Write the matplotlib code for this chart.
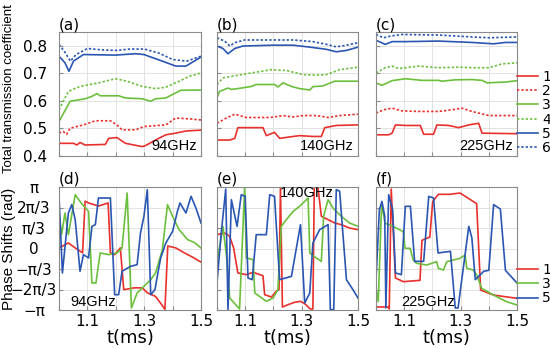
import numpy as np
import matplotlib.pyplot as plt

RED = '#e8302c'
GREEN = '#6cbf3c'
BLUE = '#2a56b2'

# ---- top row: total transmission coefficient (t in ms, value) ----
# (a) 94GHz
a1_t = [1.0, 1.051, 1.063, 1.074, 1.092, 1.163, 1.175, 1.204, 1.234, 1.293, 1.305, 1.340, 1.376, 1.411, 1.447, 1.5]
a1_v = [0.445, 0.445, 0.439, 0.448, 0.439, 0.441, 0.463, 0.466, 0.445, 0.433, 0.437, 0.457, 0.476, 0.482, 0.490, 0.493]
a2_t = [1.0, 1.015, 1.027, 1.039, 1.086, 1.128, 1.181, 1.204, 1.222, 1.270, 1.299, 1.376, 1.411, 1.459, 1.5]
a2_v = [0.482, 0.488, 0.478, 0.500, 0.512, 0.527, 0.527, 0.512, 0.494, 0.494, 0.506, 0.512, 0.537, 0.534, 0.530]
a3_t = [1.0, 1.039, 1.092, 1.116, 1.134, 1.145, 1.210, 1.234, 1.293, 1.323, 1.340, 1.376, 1.429, 1.5]
a3_v = [0.524, 0.598, 0.607, 0.616, 0.626, 0.618, 0.618, 0.610, 0.607, 0.598, 0.607, 0.610, 0.638, 0.639]
a4_t = [1.0, 1.033, 1.074, 1.139, 1.199, 1.240, 1.293, 1.340, 1.376, 1.423, 1.459, 1.5]
a4_v = [0.567, 0.634, 0.652, 0.665, 0.680, 0.671, 0.652, 0.644, 0.649, 0.671, 0.689, 0.701]
a5_t = [1.0, 1.021, 1.035, 1.051, 1.086, 1.199, 1.270, 1.299, 1.364, 1.411, 1.447, 1.476, 1.5]
a5_v = [0.762, 0.738, 0.707, 0.744, 0.768, 0.766, 0.771, 0.768, 0.744, 0.726, 0.726, 0.744, 0.759]
a6_t = [1.0, 1.02, 1.04, 1.06, 1.1, 1.15, 1.2, 1.25, 1.3, 1.35, 1.4, 1.45, 1.5]
a6_v = [0.805, 0.778, 0.744, 0.768, 0.790, 0.785, 0.783, 0.788, 0.788, 0.774, 0.750, 0.744, 0.762]

# (b) 140GHz
b1_t = [1.0, 1.045, 1.063, 1.074, 1.163, 1.175, 1.204, 1.222, 1.270, 1.293, 1.340, 1.370, 1.382, 1.423, 1.5]
b1_v = [0.457, 0.457, 0.463, 0.502, 0.502, 0.473, 0.485, 0.463, 0.470, 0.473, 0.470, 0.470, 0.502, 0.510, 0.512]
b2_t = [1.0, 1.033, 1.063, 1.104, 1.187, 1.234, 1.270, 1.305, 1.352, 1.394, 1.435, 1.5]
b2_v = [0.518, 0.537, 0.551, 0.539, 0.539, 0.546, 0.541, 0.546, 0.546, 0.539, 0.546, 0.551]
b3_t = [1.0, 1.009, 1.039, 1.051, 1.086, 1.122, 1.139, 1.204, 1.216, 1.234, 1.264, 1.293, 1.329, 1.340, 1.376, 1.417, 1.5]
b3_v = [0.610, 0.634, 0.646, 0.641, 0.646, 0.652, 0.659, 0.659, 0.650, 0.665, 0.652, 0.644, 0.639, 0.651, 0.654, 0.671, 0.671]
b4_t = [1.0, 1.021, 1.104, 1.193, 1.246, 1.305, 1.352, 1.388, 1.435, 1.5]
b4_v = [0.659, 0.683, 0.698, 0.713, 0.710, 0.695, 0.693, 0.695, 0.713, 0.722]
b5_t = [1.0, 1.021, 1.039, 1.063, 1.092, 1.199, 1.270, 1.329, 1.388, 1.423, 1.459, 1.5]
b5_v = [0.799, 0.790, 0.771, 0.790, 0.799, 0.802, 0.802, 0.795, 0.787, 0.778, 0.783, 0.795]
b6_t = [1.0, 1.027, 1.045, 1.063, 1.098, 1.270, 1.340, 1.388, 1.423, 1.459, 1.5]
b6_v = [0.829, 0.817, 0.799, 0.811, 0.821, 0.821, 0.815, 0.805, 0.796, 0.802, 0.811]

# (c) 225GHz
c1_t = [1.0, 1.045, 1.057, 1.069, 1.104, 1.157, 1.169, 1.204, 1.216, 1.258, 1.293, 1.329, 1.364, 1.376, 1.5]
c1_v = [0.476, 0.476, 0.482, 0.512, 0.510, 0.510, 0.478, 0.478, 0.512, 0.510, 0.502, 0.512, 0.518, 0.482, 0.480]
c2_t = [1.0, 1.027, 1.057, 1.092, 1.151, 1.222, 1.270, 1.305, 1.340, 1.400, 1.5]
c2_v = [0.555, 0.567, 0.573, 0.563, 0.561, 0.561, 0.567, 0.573, 0.561, 0.546, 0.546]
c3_t = [1.0, 1.021, 1.057, 1.104, 1.163, 1.222, 1.234, 1.281, 1.340, 1.376, 1.394, 1.459, 1.5]
c3_v = [0.665, 0.656, 0.673, 0.680, 0.674, 0.674, 0.671, 0.676, 0.677, 0.674, 0.665, 0.668, 0.673]
c4_t = [1.0, 1.033, 1.057, 1.080, 1.151, 1.222, 1.293, 1.340, 1.400, 1.447, 1.5]
c4_v = [0.701, 0.720, 0.726, 0.717, 0.726, 0.720, 0.722, 0.720, 0.720, 0.734, 0.738]
c5_t = [1.0, 1.033, 1.057, 1.104, 1.222, 1.340, 1.417, 1.459, 1.5]
c5_v = [0.820, 0.805, 0.815, 0.815, 0.817, 0.812, 0.807, 0.812, 0.812]
c6_t = [1.0, 1.027, 1.051, 1.092, 1.222, 1.340, 1.400, 1.5]
c6_v = [0.841, 0.829, 0.835, 0.841, 0.839, 0.832, 0.829, 0.832]

# ---- bottom row: phase shifts, in units of pi rad ----
# (d) 94GHz
d1_t = [1.0, 1.033, 1.057, 1.083, 1.092, 1.104, 1.139, 1.173, 1.181, 1.196, 1.216, 1.228, 1.264, 1.293,
        1.311, 1.340, 1.358, 1.373, 1.383, 1.411, 1.441, 1.470, 1.5]
d1_v = [0.01, 0.09, 0.01, -0.07, 0.77, 0.74, 0.69, 0.74, -0.07, -0.10, 0.01, -0.67, -0.64, -0.64,
        -0.72, -0.78, -0.89, -0.99, 0.04, 0.01, -0.07, -0.14, -0.22]
d3_t = [1.0, 1.009, 1.021, 1.033, 1.057, 1.078, 1.104, 1.116, 1.130, 1.145, 1.175, 1.204, 1.222, 1.240,
        1.255, 1.275, 1.299, 1.323, 1.340, 1.364, 1.382, 1.400, 1.423, 1.453, 1.476, 1.5]
d3_v = [0.577, 0.225, 0.577, 0.225, 0.875, 0.740, 0.604, -0.561, -0.561, -0.073, -0.100, -0.073, 0.008, 0.902,
        -0.967, -0.724, -0.615, -0.507, -0.398, -0.019, 0.713, 0.523, 0.306, 0.144, 0.100, 0.008]
d5_t = [1.0, 1.012, 1.033, 1.045, 1.057, 1.074, 1.086, 1.104, 1.116, 1.128, 1.139, 1.181, 1.196, 1.210,
        1.222, 1.252, 1.275, 1.287, 1.299, 1.311, 1.323, 1.338, 1.346, 1.358, 1.376, 1.400, 1.417, 1.426,
        1.447, 1.465, 1.482, 1.5]
d5_v = [0.848, -0.398, 0.577, 0.713, 0.469, -0.371, -0.100, -0.154, 0.360, 0.388, 0.821, 0.821, -0.751, -0.751,
        -0.371, -0.290, -0.263, 0.252, 0.523, 0.957, -0.751, -0.669, -0.453, -0.154, 0.089, 0.279, 0.604, 0.740,
        0.577, 0.848, 0.659, 0.415]

# (e) 140GHz
e1_t = [1.0, 1.027, 1.045, 1.059, 1.074, 1.104, 1.128, 1.163, 1.169, 1.193, 1.210, 1.220, 1.225, 1.232,
        1.252, 1.275, 1.296, 1.311, 1.331, 1.340, 1.345, 1.358, 1.370, 1.394, 1.417, 1.441, 1.470, 1.5]
e1_v = [0.225, 0.252, 0.198, 0.008, -0.398, -0.425, -0.387, -0.442, -0.751, -0.789, -0.696, -0.669, 1.0, -0.951,
        -0.913, -0.875, -0.859, -0.897, -0.984, -0.984, 1.0, 1.0, 0.523, 0.469, 0.415, 0.387, 0.333, 0.306]
e3_t = [1.0, 1.021, 1.035, 1.045, 1.080, 1.098, 1.104, 1.128, 1.134, 1.175, 1.199, 1.216, 1.228, 1.246,
        1.270, 1.293, 1.323, 1.329, 1.352, 1.370, 1.378, 1.394, 1.411, 1.441, 1.470, 1.5]
e3_v = [-0.236, 0.360, -0.182, -0.805, -0.984, 1.0, -0.154, -0.182, -0.724, -0.859, -0.805, -0.669, 0.360, 0.469,
        0.604, 0.686, 0.821, -0.073, -0.154, -0.209, 0.523, 0.794, 0.659, 0.523, 0.415, 0.360]
e5_t = [1.0, 1.015, 1.031, 1.039, 1.051, 1.071, 1.086, 1.100, 1.110, 1.125, 1.139, 1.175, 1.187, 1.204,
        1.222, 1.264, 1.296, 1.311, 1.329, 1.340, 1.364, 1.394, 1.402, 1.414, 1.423, 1.435, 1.459, 1.482, 1.5]
e5_v = [-0.561, 0.252, 0.967, -0.995, 0.794, 0.360, 0.875, 0.848, -0.480, -0.507, 0.225, 0.225, 0.875, 0.848,
        -0.507, -0.453, 0.388, -0.886, -0.724, 0.089, 0.306, 0.388, -0.995, -0.995, 0.957, 0.930, -0.507, -0.669, -0.805]

# (f) 225GHz
f1_t = [1.0, 1.043, 1.047, 1.054, 1.069, 1.097, 1.156, 1.163, 1.191, 1.201, 1.221, 1.262, 1.298, 1.357,
        1.371, 1.416, 1.457, 1.5]
f1_v = [-0.951, -0.951, -0.984, 0.967, -0.480, -0.539, -0.518, 0.133, 0.187, 0.762, 0.881, 0.881, 0.902, 0.729,
        -0.675, -0.756, -0.783, -0.810]
f3_t = [1.0, 1.008, 1.020, 1.032, 1.050, 1.097, 1.103, 1.121, 1.132, 1.144, 1.180, 1.215, 1.221, 1.239,
        1.251, 1.298, 1.316, 1.322, 1.345, 1.357, 1.375, 1.416, 1.463, 1.5]
f3_v = [-0.648, -0.864, 0.734, 0.409, 0.382, 0.274, 0.003, 0.003, -0.187, -0.241, -0.268, -0.214, -0.322, -0.350,
        -0.214, -0.160, -0.106, -0.322, -0.350, -0.431, -0.648, -0.756, -0.864, -0.919]
f5_t = [1.0, 1.012, 1.021, 1.031, 1.035, 1.045, 1.059, 1.069, 1.090, 1.104, 1.122, 1.137, 1.169, 1.187,
        1.204, 1.220, 1.264, 1.281, 1.291, 1.329, 1.340, 1.352, 1.382, 1.400, 1.417, 1.441, 1.459, 1.5]
f5_v = [-0.507, 0.631, 0.767, 0.523, -0.967, 0.875, 0.631, -0.398, -0.425, 0.686, 0.686, -0.209, -0.209, 0.848,
        0.821, -0.073, -0.046, -0.967, -0.967, 0.360, 0.171, -0.507, -0.371, -0.355, 0.713, 0.642, -0.355, -0.561]

x_ticks = [1.0, 1.1, 1.2, 1.3, 1.4, 1.5]
x_labels = ['', '1.1', '', '1.3', '', '1.5']
top_ticks = [0.4, 0.5, 0.6, 0.7, 0.8]
top_labels = ['0.4', '0.5', '0.6', '0.7', '0.8']
phase_ticks = [np.pi, 2 * np.pi / 3, np.pi / 3, 0, -np.pi / 3, -2 * np.pi / 3, -np.pi]
phase_labels = ['π', '2π/3', 'π/3', '0', '−π/3', '−2π/3', '−π']

W, H = 550, 349
fig = plt.figure(figsize=(5.5, 3.49), dpi=100)


def box(x0, x1, y0, y1):
    return [x0 / W, 1 - y1 / H, (x1 - x0) / W, (y1 - y0) / H]


def style(ax):
    ax.set_xlim(1.0, 1.5)
    ax.set_xticks(x_ticks)
    ax.grid(True, color='#e2e2e2', lw=0.7)
    ax.set_axisbelow(True)
    for s in ax.spines.values():
        s.set_color('#8a8a8a')
        s.set_linewidth(0.8)
    ax.tick_params(direction='in', length=3, color='#8a8a8a', labelsize=11)
    ax.tick_params(axis='x', pad=3)


xcols = [(59, 201), (217, 358), (376, 517)]
top_axes = [fig.add_axes(box(x0, x1, 32, 155.7)) for x0, x1 in xcols]
bot_axes = [fig.add_axes(box(x0, x1, 187, 310)) for x0, x1 in xcols]

dot = (0, (1.4, 1.2))
top_data = [
    [(a1_t, a1_v), (a2_t, a2_v), (a3_t, a3_v), (a4_t, a4_v), (a5_t, a5_v), (a6_t, a6_v)],
    [(b1_t, b1_v), (b2_t, b2_v), (b3_t, b3_v), (b4_t, b4_v), (b5_t, b5_v), (b6_t, b6_v)],
    [(c1_t, c1_v), (c2_t, c2_v), (c3_t, c3_v), (c4_t, c4_v), (c5_t, c5_v), (c6_t, c6_v)],
]
top_styles = [(RED, '-'), (RED, dot), (GREEN, '-'), (GREEN, dot), (BLUE, '-'), (BLUE, dot)]
top_names = ['(a)', '(b)', '(c)']
freqs = ['94GHz', '140GHz', '225GHz']
narrow = 'Liberation Sans'

for i, ax in enumerate(top_axes):
    for k, (t, v) in enumerate(top_data[i]):
        col, ls = top_styles[k]
        ax.plot(t, v, color=col, ls=ls, lw=1.2, label=str(k + 1))
    style(ax)
    ax.set_ylim(0.4, 0.85)
    ax.set_yticks(top_ticks)
    ax.set_xticklabels([])
    if i == 0:
        ax.set_yticklabels(top_labels, ha='center')
        ax.tick_params(axis='y', pad=17)
    else:
        ax.set_yticklabels([])
    ax.text(0.0, 1.0, top_names[i], transform=ax.transAxes, fontsize=11, va='bottom', ha='left')
    ax.text(0.97, 0.05, freqs[i], transform=ax.transAxes, fontsize=10.5, ha='right', va='baseline',
            family=narrow)

bot_data = [
    [(d1_t, d1_v), (d3_t, d3_v), (d5_t, d5_v)],
    [(e1_t, e1_v), (e3_t, e3_v), (e5_t, e5_v)],
    [(f1_t, f1_v), (f3_t, f3_v), (f5_t, f5_v)],
]
bot_cols = [RED, GREEN, BLUE]
bot_names = ['(d)', '(e)', '(f)']
for i, ax in enumerate(bot_axes):
    for k, (t, v) in enumerate(bot_data[i]):
        ax.plot(t, np.array(v) * np.pi, color=bot_cols[k], lw=1.2, label=str(2 * k + 1))
    style(ax)
    ax.set_ylim(-np.pi, np.pi)
    ax.set_yticks(phase_ticks)
    ax.set_xticklabels(x_labels)
    ax.set_xlabel('t(ms)', fontsize=13, labelpad=0)
    if i == 0:
        ax.set_yticklabels(phase_labels, ha='center', fontsize=11)
        ax.tick_params(axis='y', pad=18)
    else:
        ax.set_yticklabels([])
    ax.text(0.0, 1.0, bot_names[i], transform=ax.transAxes, fontsize=11, va='bottom', ha='left')

bot_axes[0].text(0.077, 0.03, '94GHz', transform=bot_axes[0].transAxes, fontsize=10.5,
                 ha='left', va='baseline', family=narrow)
bot_axes[1].text(0.447, 1.01, '140GHz', transform=bot_axes[1].transAxes, fontsize=10.5,
                 ha='left', va='top', family=narrow)
bot_axes[2].text(0.18, 0.03, '225GHz', transform=bot_axes[2].transAxes, fontsize=10.5,
                 ha='left', va='baseline', family=narrow)

top_axes[2].legend(loc='center left', bbox_to_anchor=(1.0, 0.35), frameon=False, fontsize=10,
                   handlelength=1.5, handletextpad=0.3, labelspacing=0.02, borderaxespad=0, borderpad=0)
bot_axes[2].legend(loc='center left', bbox_to_anchor=(1.0, 0.21), frameon=False, fontsize=10,
                   handlelength=1.5, handletextpad=0.3, labelspacing=0.02, borderaxespad=0, borderpad=0)

fig.text(9 / W, 1 - 89 / H, 'Total transmission coefficient', rotation=90, fontsize=9.5,
         ha='center', va='center', family='Liberation Sans')
fig.text(9 / W, 1 - 249 / H, 'Phase Shifts (rad)', rotation=90, fontsize=11,
         ha='center', va='center', family='Liberation Sans')

fig.savefig('out.png', dpi=100)
